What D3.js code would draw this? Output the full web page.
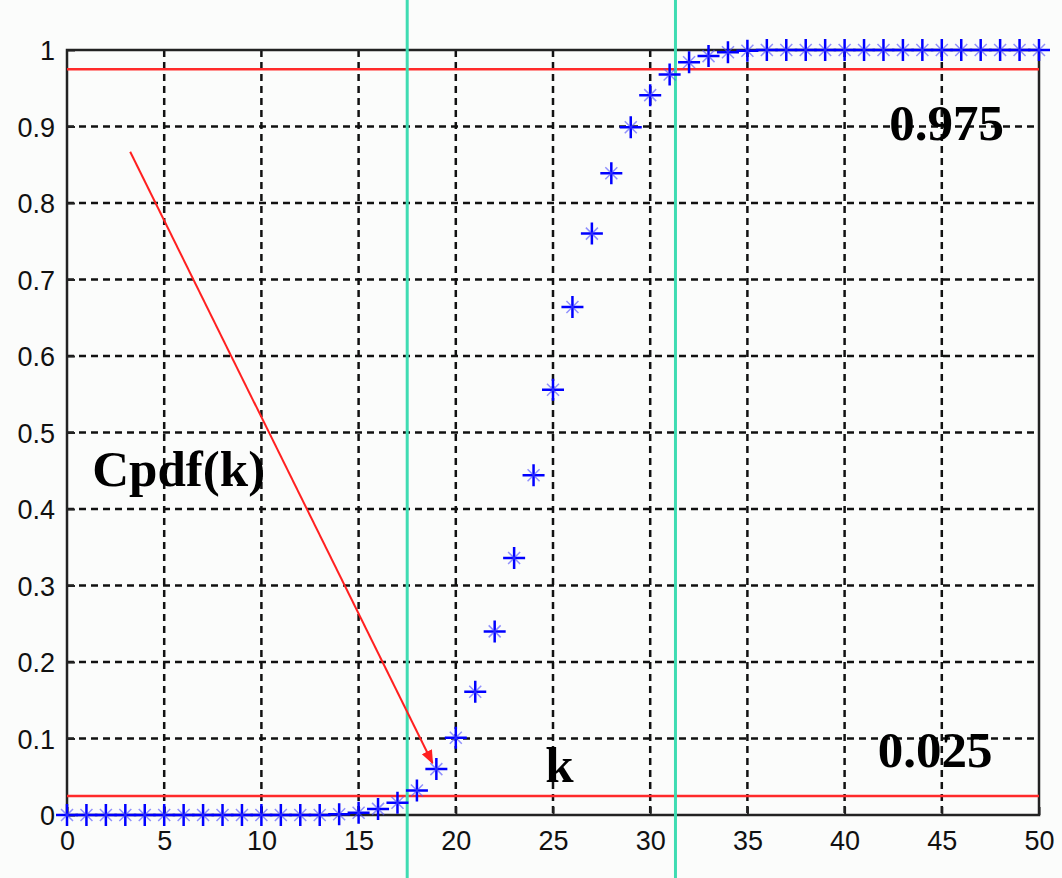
<!DOCTYPE html>
<html>
<head>
<meta charset="utf-8">
<script src="https://cdn.jsdelivr.net/npm/d3@7"></script>
<style>
  body { margin: 0; background: #fbfcfb; }
  svg { display: block; }
</style>
</head>
<body>
<script>
// data
var kValues = [0,1,2,3,4,5,6,7,8,9,10,11,12,13,14,15,16,17,18,19,20,
               21,22,23,24,25,26,27,28,29,30,31,32,33,34,35,36,37,38,39,40,
               41,42,43,44,45,46,47,48,49,50];
var cdfValues = [0,0,0,0,0,0,0,0,0,0,0,0,0,0,0.001,0.003,0.008,0.016,0.032,0.06,0.101,
                 0.161,0.24,0.336,0.444,0.556,0.664,0.76,0.839,0.899,0.941,0.968,0.984,0.992,0.997,0.999,1,1,1,1,1,
                 1,1,1,1,1,1,1,1,1,1];
var xTicks = [0,5,10,15,20,25,30,35,40,45,50];
var yTicks = [0,0.1,0.2,0.3,0.4,0.5,0.6,0.7,0.8,0.9,1];
var yTickLabels = ["0","0.1","0.2","0.3","0.4","0.5","0.6","0.7","0.8","0.9","1"];
var redLevels = [0.975, 0.025];
var greenLines = [17.5, 31.3];
var labels = [
  {text: "Cpdf(k)", x: 1.3, y: 0.43},
  {text: "0.975", x: 42.3, y: 0.882},
  {text: "0.025", x: 41.7, y: 0.063},
  {text: "k", x: 24.6, y: 0.043}
];
var arrow = {x1: 3.25, y1: 0.867, x2: 18.8, y2: 0.068};

// set the dimensions and margins of the graph
var W = 1062, H = 878;
var margin = {top: 50, right: 23, bottom: 63, left: 67},
    width = W - margin.left - margin.right,
    height = H - margin.top - margin.bottom;

var x = d3.scaleLinear().domain([0, 50]).range([0, width]);
var y = d3.scaleLinear().domain([0, 1]).range([height, 0]);

var root = d3.select("body").append("svg")
    .attr("width", W)
    .attr("height", H);

var svg = root.append("g")
    .attr("transform", "translate(" + margin.left + "," + margin.top + ")");

// dashed grid
svg.append("g")
    .selectAll("line")
    .data(xTicks.slice(1, -1))
    .enter().append("line")
      .attr("x1", d => x(d)).attr("x2", d => x(d))
      .attr("y1", 0).attr("y2", height)
      .attr("stroke", "#111").attr("stroke-width", 2.5)
      .attr("stroke-dasharray", "7,5");

svg.append("g")
    .selectAll("line")
    .data(yTicks.slice(1, -1))
    .enter().append("line")
      .attr("x1", 0).attr("x2", width)
      .attr("y1", d => y(d)).attr("y2", d => y(d))
      .attr("stroke", "#111").attr("stroke-width", 2.5)
      .attr("stroke-dasharray", "7,5");

// axes
var xAxis = svg.append("g")
    .attr("transform", "translate(0," + height + ")")
    .call(d3.axisBottom(x).tickValues(xTicks).tickSizeInner(-8).tickSizeOuter(0).tickPadding(16));
var yAxis = svg.append("g")
    .call(d3.axisLeft(y).tickValues(yTicks).tickSizeInner(-8).tickSizeOuter(0).tickPadding(12)
      .tickFormat((d, i) => yTickLabels[i]));

[xAxis, yAxis].forEach(function(a) {
  a.select(".domain").remove();
  a.selectAll("line").attr("stroke", "#222").attr("stroke-width", 2);
  a.selectAll("text")
    .style("font-family", "'Liberation Sans', Arial, sans-serif")
    .style("font-size", "27px")
    .attr("fill", "#111");
});
yAxis.selectAll("text").attr("dy", "0.36em");
xAxis.selectAll("text").attr("dy", "0.71em");

// frame
svg.append("rect")
    .attr("width", width).attr("height", height)
    .attr("fill", "none").attr("stroke", "#222").attr("stroke-width", 2.5);

// red levels
svg.append("g")
    .selectAll("line")
    .data(redLevels)
    .enter().append("line")
      .attr("x1", 0).attr("x2", width)
      .attr("y1", d => y(d)).attr("y2", d => y(d))
      .attr("stroke", "#ff2a2a").attr("stroke-width", 2.5);

// green vertical lines, they run over the full picture
svg.append("g")
    .selectAll("line")
    .data(greenLines)
    .enter().append("line")
      .attr("x1", d => x(d)).attr("x2", d => x(d))
      .attr("y1", -margin.top).attr("y2", height + margin.bottom)
      .attr("stroke", "#3fdcb2").attr("stroke-width", 3);

// arrow
root.append("defs").append("marker")
    .attr("id", "head")
    .attr("viewBox", "0 0 10 10")
    .attr("refX", 9).attr("refY", 5)
    .attr("markerWidth", 7).attr("markerHeight", 7)
    .attr("markerUnits", "strokeWidth")
    .attr("orient", "auto")
  .append("path")
    .attr("d", "M0,1 L10,5 L0,9 Z")
    .attr("fill", "#ff2020");

svg.append("line")
    .attr("x1", x(arrow.x1)).attr("y1", y(arrow.y1))
    .attr("x2", x(arrow.x2)).attr("y2", y(arrow.y2))
    .attr("stroke", "#ff2020").attr("stroke-width", 2)
    .attr("marker-end", "url(#head)");

// star markers
var pts = kValues.map((k, i) => ({k: k, v: cdfValues[i]}));
var stars = svg.append("g")
    .selectAll("g")
    .data(pts)
    .enter().append("g")
      .attr("transform", d => "translate(" + x(d.k) + "," + y(d.v) + ")");
stars.append("path")
    .attr("d", "M-11,0H11M0,-11V11")
    .attr("stroke", "#0000ff").attr("stroke-width", 2.5);
stars.append("path")
    .attr("d", "M-6,-6L6,6M-6,6L6,-6")
    .attr("stroke", "#4a4aff").attr("stroke-width", 1.5).attr("opacity", 0.6);

// big labels
svg.append("g")
    .selectAll("text")
    .data(labels)
    .enter().append("text")
      .attr("x", d => x(d.x))
      .attr("y", d => y(d.y))
      .text(d => d.text)
      .style("font-family", "'Liberation Serif', 'Times New Roman', serif")
      .style("font-weight", "bold")
      .style("font-size", "51px")
      .attr("fill", "#000");
</script>
</body>
</html>
